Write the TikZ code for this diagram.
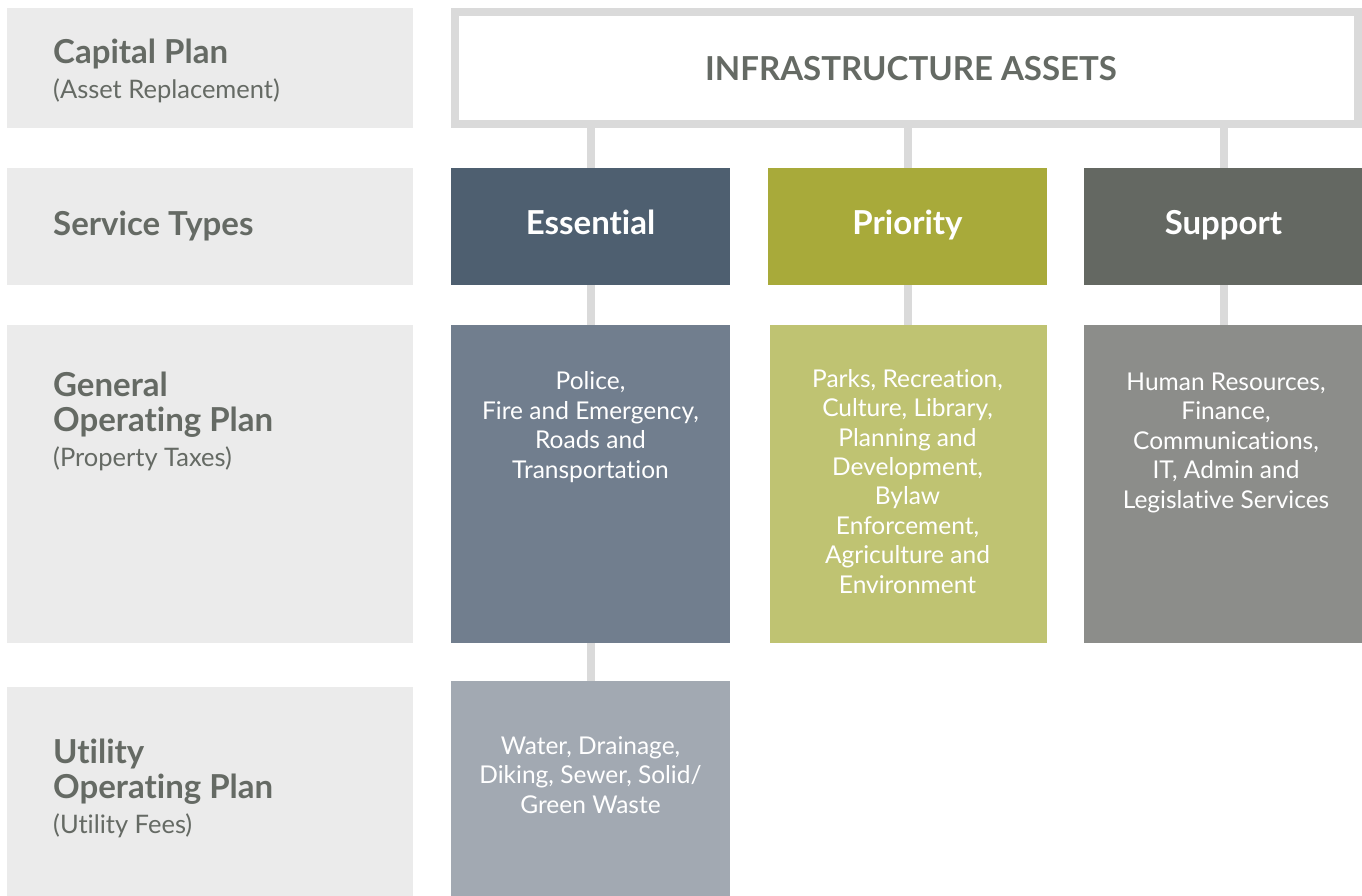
\documentclass[tikz,border=0pt]{standalone}
\usepackage{fontspec}
\setmainfont{Lato}[Ligatures=NoCommon]
\usetikzlibrary{positioning}

\definecolor{bandgrey}{HTML}{EBEBEB}
\definecolor{labelgrey}{HTML}{656A64}
\definecolor{linkgrey}{HTML}{DADADA}
\definecolor{essdark}{HTML}{4E5F70}
\definecolor{essmid}{HTML}{717E8E}
\definecolor{esslight}{HTML}{A2A9B2}
\definecolor{pridark}{HTML}{A8AA3A}
\definecolor{prilight}{HTML}{BFC372}
\definecolor{supdark}{HTML}{646862}
\definecolor{suplight}{HTML}{8C8D8A}

\newcommand\fundsrc[1]{{\fontsize{25.5}{35}\selectfont\mdseries #1}}

\begin{document}
\begin{tikzpicture}[x=1pt, y=-1pt,
  band/.style={fill=bandgrey, anchor=north west, minimum width=406pt, inner sep=0pt},
  cell/.style={anchor=north, minimum width=279pt, inner sep=0pt},
  head/.style={anchor=base west, align=left, inner sep=0pt, text=labelgrey,
    font=\fontsize{33}{35}\selectfont\bfseries},
  kind/.style={anchor=base, inner sep=0pt, text=white,
    font=\fontsize{33}{36}\selectfont\bfseries},
  items/.style={anchor=base, align=center, inner sep=0pt, text=white,
    font=\fontsize{24.5}{29.4}\selectfont},
  link/.style={draw=linkgrey, line width=8pt}]
  \useasboundingbox (0,0) rectangle (1362,896);

  % row bands on the left (text nodes sit on the baseline of their last line)
  \node[band, minimum height=120pt] (capital) at (7,8) {};
  \node[band, minimum height=117pt] (service) at (7,168) {};
  \node[band, minimum height=318pt] (general) at (7,325) {};
  \node[band, minimum height=209pt] (utility) at (7,687) {};

  \node[head] (capitaltxt) at (53,99) {Capital Plan\\ \fundsrc{(Asset Replacement)}};
  \node[head] (servicetxt) at (53,236) {Service Types};
  \node[head] (generaltxt) at (53,466) {General\\ Operating Plan\\ \fundsrc{(Property Taxes)}};
  \node[head] (utilitytxt) at (53,833) {Utility\\ Operating Plan\\ \fundsrc{(Utility Fees)}};

  % top box
  \node[draw=linkgrey, line width=8pt, fill=white, minimum width=903pt,
    minimum height=112pt, inner sep=0pt] (infra) at (906.5,68) {};
  \node[anchor=base, inner sep=0pt, text=labelgrey,
    font=\fontsize{33}{35}\selectfont\bfseries] (infratxt) at (911,81) {INFRASTRUCTURE ASSETS};

  % service types
  \node[cell, fill=essdark, minimum height=117pt] (ess) at (590.5,168) {};
  \node[cell, fill=pridark, minimum height=117pt] (pri) at (907.5,168) {};
  \node[cell, fill=supdark, minimum height=117pt] (sup) at (1223.5,168) {};
  \node[kind] (esstxt) at (ess.center |- 0,234) {Essential};
  \node[kind] (pritxt) at (pri.center |- 0,234) {Priority};
  \node[kind] (suptxt) at (sup.center |- 0,234) {Support};

  % services under each type
  \node[cell, fill=essmid, minimum height=318pt] (essgen) at (590.5,325) {};
  \node[cell, fill=prilight, minimum height=318pt, minimum width=277pt] (prigen) at (908.5,325) {};
  \node[cell, fill=suplight, minimum height=318pt] (supgen) at (1223.5,325) {};
  \node[cell, fill=esslight, minimum height=215pt] (essutil) at (590.5,681) {};

  \node[items] (essgentxt) at (590.5,478)
    {Police,\\ Fire and Emergency,\\ Roads and\\ Transportation};
  \node[items] (prigentxt) at (907.5,593)
    {Parks, Recreation,\\ Culture, Library,\\ Planning and\\ Development,\\ Bylaw\\
     Enforcement,\\ Agriculture and\\ Environment};
  \node[items] (supgentxt) at (1226,508)
    {Human Resources,\\ Finance,\\ Communications,\\ IT, Admin and\\ Legislative Services};
  \node[items] (essutiltxt) at (590.5,813)
    {Water, Drainage,\\ Diking, Sewer, Solid/\\ Green Waste};

  % links
  \draw[link] (infra.south -| ess.north) -- (ess.north);
  \draw[link] (infra.south -| pri.north) -- (pri.north);
  \draw[link] (infra.south -| sup.north) -- (sup.north);
  \draw[link] (ess.south) -- (essgen.north);
  \draw[link] (pri.south) -- (pri.south |- prigen.north);
  \draw[link] (sup.south) -- (supgen.north);
  \draw[link] (essgen.south) -- (essutil.north);
\end{tikzpicture}
\end{document}
